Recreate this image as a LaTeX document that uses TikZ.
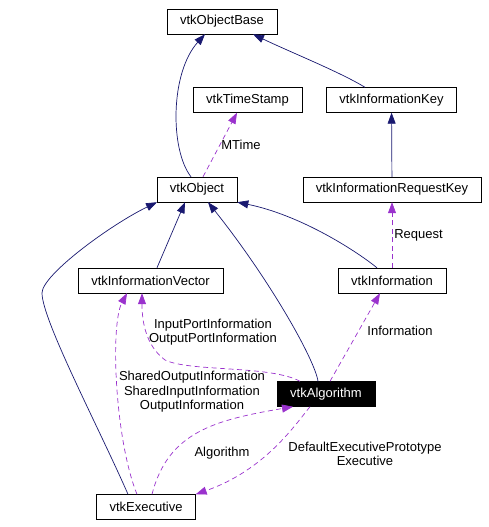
\documentclass[tikz,border=0pt]{standalone}
\usepackage{fontspec}
\setmainfont{Liberation Sans}
\usetikzlibrary{arrows.meta}
\definecolor{inhblue}{HTML}{191970}
\definecolor{usepurple}{HTML}{9A32CD}

\begin{document}
\begin{tikzpicture}[x=1pt, y=-1pt,
box/.style={rectangle, draw=black, fill=white, inner xsep=13pt, inner ysep=0pt, minimum height=25pt, font=\fontsize{13}{14.5}\selectfont},
inherit/.style={draw=inhblue, line width=0.7pt, -{Triangle[length=11pt, width=8pt, fill=inhblue]}},
uses/.style={draw=usepurple, line width=0.7pt, dash pattern=on 5pt off 3.5pt, -{Triangle[length=11pt, width=8pt, fill=usepurple]}},
lbl/.style={align=center, inner sep=1pt, font=\fontsize{13}{14.5}\selectfont}
]
\useasboundingbox (0,0) rectangle (488,527);
%Nodes
\node[box]      (base)   at (222,21.5)    {vtkObjectBase};
\node[box]      (stamp)  at (247.5,100)   {vtkTimeStamp};
\node[box]      (ikey)   at (391.5,100)   {vtkInformationKey};
\node[box]      (obj)    at (197,189.5)   {vtkObject};
\node[box]      (rkey)   at (392,189.5)   {vtkInformationRequestKey};
\node[box]      (ivec)   at (150.5,280.5) {vtkInformationVector};
\node[box]      (info)   at (392,280.5)   {vtkInformation};
\node[box, fill=black, text=white] (alg) at (326,394) {vtkAlgorithm};
\node[box]      (exec)   at (146,507)     {vtkExecutive};
%Lines
\draw[inherit] ([xshift=-6pt]obj.north) .. controls (170,150) and (170,73) .. ([xshift=-17pt]base.south);
\draw[inherit] ([xshift=-26.5pt]ikey.north) .. controls (340,72) and (290,52) .. ([xshift=31pt]base.south);
\draw[inherit] (rkey) -- (ikey);
\draw[inherit] ([xshift=6.5pt]ivec.north) -- ([xshift=-12pt]obj.south);
\draw[inherit] ([xshift=-18pt]exec.north) .. controls (100,430) and (42,320) .. (42,293)
               .. controls (42,275) and (110,225) .. ([xshift=-40pt]obj.south);
\draw[inherit] ([xshift=-8pt]alg.north) .. controls (315,360) and (270,280) .. ([xshift=11pt]obj.south);
\draw[inherit] ([xshift=-15pt]info.north) .. controls (355,250) and (300,215) .. (obj.south east);
\draw[uses] ([xshift=6pt]obj.north) -- ([xshift=-10.5pt]stamp.south) node [pos=0.5, anchor=west, lbl] {MTime};
\draw[uses] (info) -- (rkey) node [midway, right, lbl, xshift=1pt] {Request};
\draw[uses] ([xshift=4pt]alg.north) -- ([xshift=-12pt]info.south) node [lbl] at (400,331) {Information};
\draw[uses] ([xshift=-26pt]alg.north) .. controls (270,365) and (190,372) .. (165,360)
            .. controls (145,345) and (142,320) .. ([xshift=-8.5pt]ivec.south)
            node [lbl] at (213,332) {InputPortInformation\\OutputPortInformation};
\draw[uses] ([xshift=-9pt]exec.north) .. controls (115,440) and (110,325) .. ([xshift=-23.5pt]ivec.south)
            node [lbl] at (192,392) {SharedOutputInformation\\SharedInputInformation\\OutputInformation};
\draw[uses] ([xshift=6pt]exec.north) .. controls (168,432) and (215,420) .. ([xshift=-33pt]alg.south)
            node [lbl] at (222,453) {Algorithm};
\draw[uses] ([xshift=-16pt]alg.south) .. controls (295,425) and (265,470) .. (exec.north east)
            node [lbl] at (365,454) {DefaultExecutivePrototype\\Executive};
\end{tikzpicture}
\end{document}
